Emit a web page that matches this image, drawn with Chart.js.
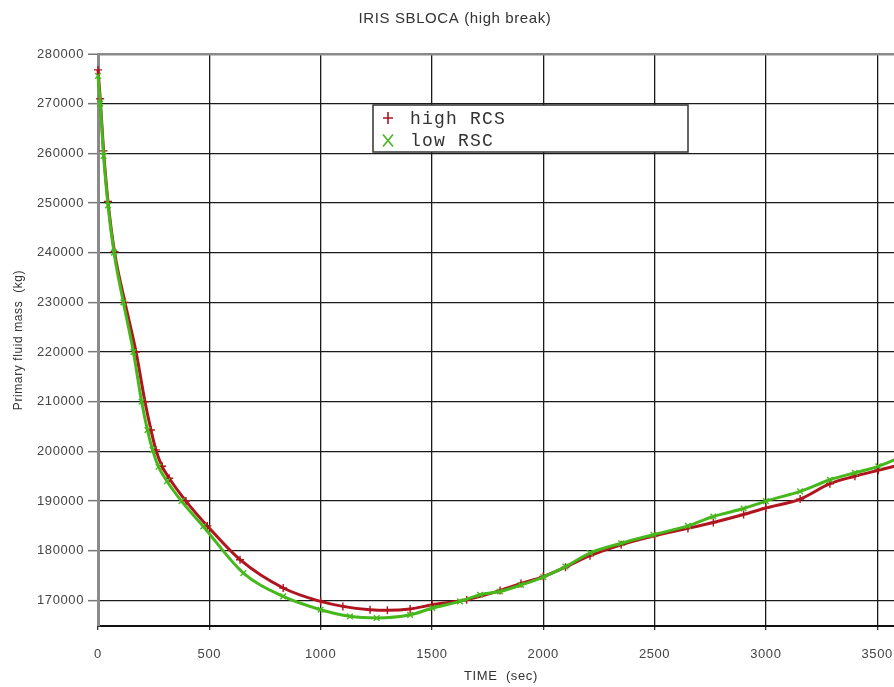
<!DOCTYPE html>
<html>
<head>
<meta charset="utf-8">
<script src="https://cdn.jsdelivr.net/npm/chart.js@4/dist/chart.umd.min.js"></script>
<style>
  html, body { margin: 0; padding: 0; background: #fff; overflow: hidden; }
  #wrap { width: 894px; height: 687px; overflow: hidden; position: relative; background: #fff; }
  canvas { display: block; }
</style>
</head>
<body>
<div id="wrap"><canvas id="c" width="910" height="687" style="width:910px;height:687px"></canvas></div>
<script>
// Primary fluid mass after a small break LOCA (high break), two RCS cases
const seriesNames = ['high RCS', 'low RSC'];

const highTime = [0, 10, 25, 45, 74, 121, 171, 211, 238, 260, 288, 320, 395, 491, 638, 832, 1000, 1100, 1222, 1300, 1402,
  1502, 1656, 1806, 1900, 2000, 2100, 2210, 2350, 2500, 2650, 2764, 2900, 3000, 3154, 3288, 3400, 3505, 3620];
const highMass = [276800, 271000, 260500, 250300, 240200, 230000, 220000, 210000, 204300, 200300, 197000, 194600, 190000,
  185000, 178200, 172500, 169800, 168800, 168130, 168000, 168270, 169130, 170140, 172000, 173400, 174800, 176700,
  179000, 181200, 183000, 184500, 185700, 187300, 188600, 190400, 193500, 195000, 196200, 197500];

const lowTime = [0, 10, 25, 45, 72, 114, 159, 196, 222, 245, 272, 310, 375, 473, 653, 832, 1000, 1132, 1252, 1402, 1502,
  1626, 1716, 1806, 1900, 2000, 2100, 2210, 2350, 2495, 2650, 2764, 2900, 3000, 3154, 3288, 3400, 3505, 3620];
const lowMass = [275600, 270000, 259500, 249500, 240000, 230000, 220000, 210000, 204300, 200300, 196900, 194000, 190000,
  184900, 175500, 170800, 168130, 166800, 166460, 167100, 168470, 169800, 171150, 171800, 173100, 174700, 176800,
  179540, 181500, 183230, 185000, 186900, 188500, 190000, 191950, 194300, 195700, 197000, 199100];

const xTicks = [0, 500, 1000, 1500, 2000, 2500, 3000, 3500];
const yTicks = [170000, 180000, 190000, 200000, 210000, 220000, 230000, 240000, 250000, 260000, 270000, 280000];
const xRange = [0, 3620];
const yRange = [164850, 280000];

const RED = '#b0141f';
const GREEN = '#46b81c';

function points(t, v) { return t.map((x, i) => ({ x: x, y: v[i] })); }
function fixedTicks(list) { return scale => { scale.ticks = list.map(v => ({ value: v })); }; }

// Spaced lettering for every text drawn on the canvas
const spacing = {
  id: 'spacing',
  beforeLayout(chart) { chart.ctx.letterSpacing = '0.6px'; },
  beforeDraw(chart) {
    const ctx = chart.ctx;
    ctx.letterSpacing = '0.6px';
    ctx.save();
    ctx.fillStyle = '#fff';
    ctx.fillRect(0, 0, chart.width, chart.height);
    ctx.restore();
  }
};

// Boxed legend inside the plot, monospace labels with drawn markers
const boxLegend = {
  id: 'boxLegend',
  afterDraw(chart) {
    const ctx = chart.ctx;
    const a = chart.chartArea;
    const x0 = a.left + 275, y0 = a.top + 51, w = 315, h = 47;
    ctx.save();
    ctx.fillStyle = '#fff';
    ctx.fillRect(x0, y0, w, h);
    ctx.strokeStyle = '#333';
    ctx.lineWidth = 1.5;
    ctx.strokeRect(x0, y0, w, h);
    ctx.font = '18px "Liberation Mono", "DejaVu Sans Mono", monospace';
    ctx.letterSpacing = '1.2px';
    ctx.textBaseline = 'middle';
    ctx.fillStyle = '#333';
    chart.data.datasets.forEach((ds, i) => {
      const cy = y0 + 13 + i * 22.5;
      const mx = x0 + 15;
      ctx.strokeStyle = ds.borderColor;
      ctx.lineWidth = 1.6;
      ctx.beginPath();
      if (ds.pointStyle === 'cross') {
        ctx.moveTo(mx, cy - 6); ctx.lineTo(mx, cy + 6);
        ctx.moveTo(mx - 5, cy); ctx.lineTo(mx + 5, cy);
      } else {
        ctx.moveTo(mx - 5, cy - 6); ctx.lineTo(mx + 5, cy + 6);
        ctx.moveTo(mx + 5, cy - 6); ctx.lineTo(mx - 5, cy + 6);
      }
      ctx.stroke();
      ctx.fillText(ds.label, x0 + 37, cy + 1);
    });
    ctx.restore();
  }
};

const tickFont = { family: '"Liberation Sans", Arial, sans-serif', size: 13 };

new Chart(document.getElementById('c'), {
  type: 'line',
  data: {
    datasets: [
      {
        label: seriesNames[0],
        data: points(highTime, highMass),
        borderColor: RED,
        backgroundColor: RED,
        borderWidth: 3,
        pointStyle: 'cross',
        pointRadius: 4,
        pointBorderWidth: 1.4,
        cubicInterpolationMode: 'monotone',
        order: 1
      },
      {
        label: seriesNames[1],
        data: points(lowTime, lowMass),
        borderColor: GREEN,
        backgroundColor: GREEN,
        borderWidth: 3,
        pointStyle: 'crossRot',
        pointRadius: 4,
        pointBorderWidth: 1.4,
        cubicInterpolationMode: 'monotone',
        order: 0
      }
    ]
  },
  options: {
    responsive: false,
    animation: false,
    clip: false,
    layout: { padding: 0 },
    plugins: {
      legend: { display: false },
      tooltip: { enabled: false },
      title: {
        display: true,
        text: 'IRIS SBLOCA (high break)',
        color: '#333',
        font: { family: '"Liberation Sans", Arial, sans-serif', size: 15, weight: 'normal' },
        padding: { top: 10, bottom: 26 }
      }
    },
    scales: {
      x: {
        type: 'linear',
        min: xRange[0],
        max: xRange[1],
        afterBuildTicks: fixedTicks(xTicks),
        afterFit(s) { s.height = 61; },
        ticks: { color: '#444', font: tickFont, padding: 17, maxRotation: 0, callback: v => String(v) },
        grid: {
          color: c => (c.tick && c.tick.value === 0) ? '#8a8a8a' : '#1a1a1a',
          lineWidth: 1.3,
          tickLength: 4,
          tickColor: '#333'
        },
        border: { color: '#111', width: 2 },
        title: {
          display: true,
          text: 'TIME  (sec)',
          color: '#333',
          font: { family: '"Liberation Sans", Arial, sans-serif', size: 13 },
          padding: { top: 0, bottom: 3 }
        }
      },
      y: {
        type: 'linear',
        min: yRange[0],
        max: yRange[1],
        afterBuildTicks: fixedTicks(yTicks),
        afterFit(s) { s.width = 98; },
        ticks: { color: '#444', font: tickFont, padding: 4, callback: v => String(v) },
        grid: {
          color: c => (c.tick && c.tick.value === yRange[1]) ? '#8a8a8a' : '#1a1a1a',
          lineWidth: c => (c.tick && c.tick.value === yRange[1]) ? 2.5 : 1.3,
          tickLength: 10,
          tickColor: '#777',
          tickWidth: 1.5
        },
        border: { color: '#8a8a8a', width: 3 },
        title: {
          display: true,
          text: 'Primary fluid mass  (kg)',
          color: '#333',
          font: { family: '"Liberation Sans", Arial, sans-serif', size: 12 },
          padding: { top: 11, bottom: 0 }
        }
      }
    }
  },
  plugins: [spacing, boxLegend]
});
</script>
</body>
</html>
